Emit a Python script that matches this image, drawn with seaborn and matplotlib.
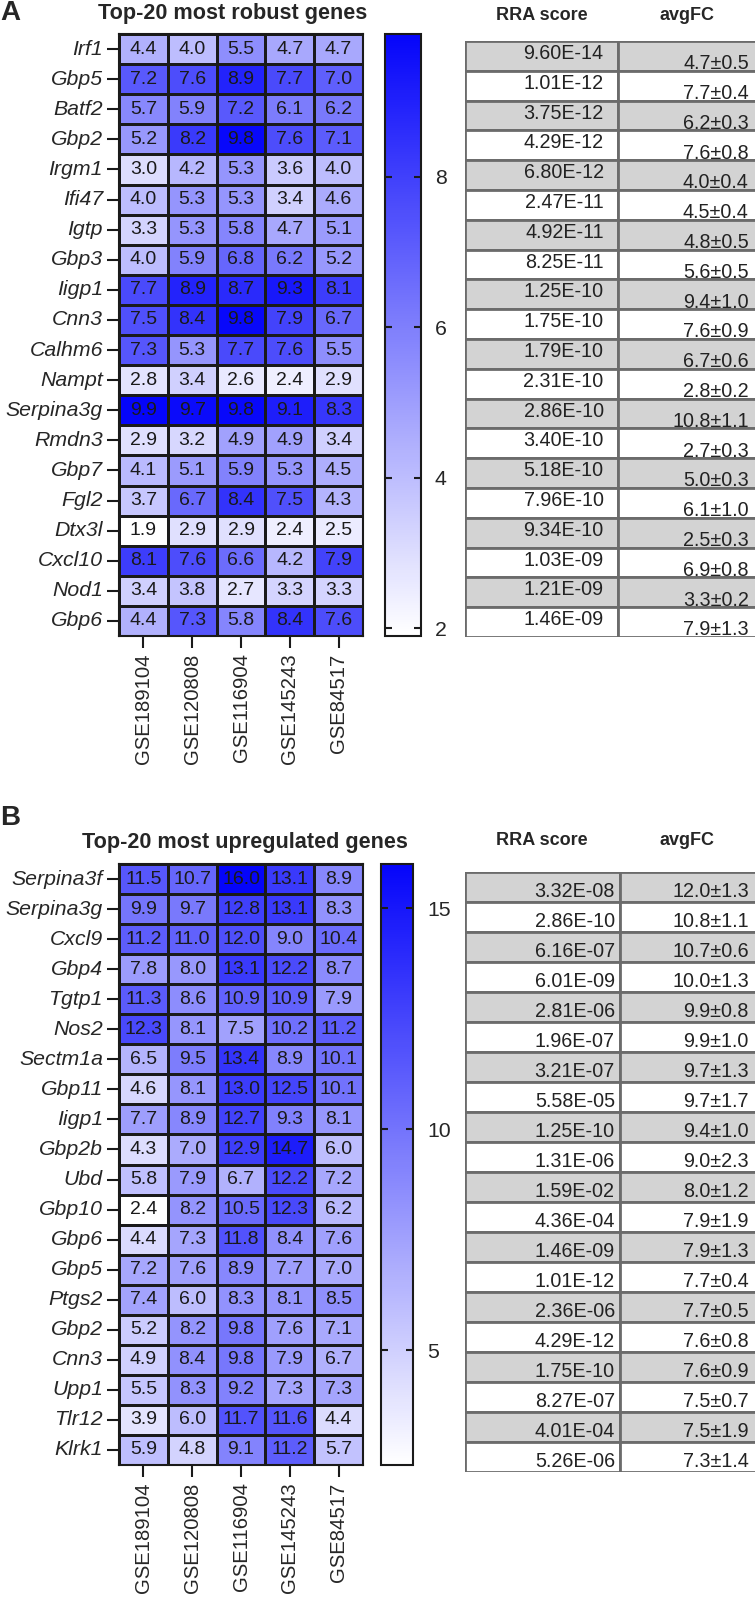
import numpy as np
import pandas as pd
import matplotlib
matplotlib.use("Agg")
import matplotlib.pyplot as plt
import seaborn as sns
from matplotlib.colors import LinearSegmentedColormap

# --- Data ---
datasets = ['GSE189104', 'GSE120808', 'GSE116904', 'GSE145243', 'GSE84517']

genes_a = ['Irf1', 'Gbp5', 'Batf2', 'Gbp2', 'Irgm1', 'Ifi47', 'Igtp', 'Gbp3', 'Iigp1', 'Cnn3',
           'Calhm6', 'Nampt', 'Serpina3g', 'Rmdn3', 'Gbp7', 'Fgl2', 'Dtx3l', 'Cxcl10', 'Nod1', 'Gbp6']
fc_a = [
    [4.4, 4.0, 5.5, 4.7, 4.7],
    [7.2, 7.6, 8.9, 7.7, 7.0],
    [5.7, 5.9, 7.2, 6.1, 6.2],
    [5.2, 8.2, 9.8, 7.6, 7.1],
    [3.0, 4.2, 5.3, 3.6, 4.0],
    [4.0, 5.3, 5.3, 3.4, 4.6],
    [3.3, 5.3, 5.8, 4.7, 5.1],
    [4.0, 5.9, 6.8, 6.2, 5.2],
    [7.7, 8.9, 8.7, 9.3, 8.1],
    [7.5, 8.4, 9.8, 7.9, 6.7],
    [7.3, 5.3, 7.7, 7.6, 5.5],
    [2.8, 3.4, 2.6, 2.4, 2.9],
    [9.9, 9.7, 9.8, 9.1, 8.3],
    [2.9, 3.2, 4.9, 4.9, 3.4],
    [4.1, 5.1, 5.9, 5.3, 4.5],
    [3.7, 6.7, 8.4, 7.5, 4.3],
    [1.9, 2.9, 2.9, 2.4, 2.5],
    [8.1, 7.6, 6.6, 4.2, 7.9],
    [3.4, 3.8, 2.7, 3.3, 3.3],
    [4.4, 7.3, 5.8, 8.4, 7.6],
]
rra_a = ['9.60E-14', '1.01E-12', '3.75E-12', '4.29E-12', '6.80E-12', '2.47E-11', '4.92E-11',
         '8.25E-11', '1.25E-10', '1.75E-10', '1.79E-10', '2.31E-10', '2.86E-10', '3.40E-10',
         '5.18E-10', '7.96E-10', '9.34E-10', '1.03E-09', '1.21E-09', '1.46E-09']
avgfc_a = ['4.7±0.5', '7.7±0.4', '6.2±0.3', '7.6±0.8', '4.0±0.4', '4.5±0.4', '4.8±0.5',
           '5.6±0.5', '9.4±1.0', '7.6±0.9', '6.7±0.6', '2.8±0.2', '10.8±1.1', '2.7±0.3',
           '5.0±0.3', '6.1±1.0', '2.5±0.3', '6.9±0.8', '3.3±0.2', '7.9±1.3']

genes_b = ['Serpina3f', 'Serpina3g', 'Cxcl9', 'Gbp4', 'Tgtp1', 'Nos2', 'Sectm1a', 'Gbp11', 'Iigp1',
           'Gbp2b', 'Ubd', 'Gbp10', 'Gbp6', 'Gbp5', 'Ptgs2', 'Gbp2', 'Cnn3', 'Upp1', 'Tlr12', 'Klrk1']
fc_b = [
    [11.5, 10.7, 16.0, 13.1, 8.9],
    [9.9, 9.7, 12.8, 13.1, 8.3],
    [11.2, 11.0, 12.0, 9.0, 10.4],
    [7.8, 8.0, 13.1, 12.2, 8.7],
    [11.3, 8.6, 10.9, 10.9, 7.9],
    [12.3, 8.1, 7.5, 10.2, 11.2],
    [6.5, 9.5, 13.4, 8.9, 10.1],
    [4.6, 8.1, 13.0, 12.5, 10.1],
    [7.7, 8.9, 12.7, 9.3, 8.1],
    [4.3, 7.0, 12.9, 14.7, 6.0],
    [5.8, 7.9, 6.7, 12.2, 7.2],
    [2.4, 8.2, 10.5, 12.3, 6.2],
    [4.4, 7.3, 11.8, 8.4, 7.6],
    [7.2, 7.6, 8.9, 7.7, 7.0],
    [7.4, 6.0, 8.3, 8.1, 8.5],
    [5.2, 8.2, 9.8, 7.6, 7.1],
    [4.9, 8.4, 9.8, 7.9, 6.7],
    [5.5, 8.3, 9.2, 7.3, 7.3],
    [3.9, 6.0, 11.7, 11.6, 4.4],
    [5.9, 4.8, 9.1, 11.2, 5.7],
]
rra_b = ['3.32E-08', '2.86E-10', '6.16E-07', '6.01E-09', '2.81E-06', '1.96E-07', '3.21E-07',
         '5.58E-05', '1.25E-10', '1.31E-06', '1.59E-02', '4.36E-04', '1.46E-09', '1.01E-12',
         '2.36E-06', '4.29E-12', '1.75E-10', '8.27E-07', '4.01E-04', '5.26E-06']
avgfc_b = ['12.0±1.3', '10.8±1.1', '10.7±0.6', '10.0±1.3', '9.9±0.8', '9.9±1.0', '9.7±1.3',
           '9.7±1.7', '9.4±1.0', '9.0±2.3', '8.0±1.2', '7.9±1.9', '7.9±1.3', '7.7±0.4',
           '7.7±0.5', '7.6±0.8', '7.6±0.9', '7.5±0.7', '7.5±1.9', '7.3±1.4']

# --- Style ---
sns.set_style("white")
plt.rcParams['font.family'] = ['Liberation Sans', 'DejaVu Sans']

W, H = 755, 1599
fig = plt.figure(figsize=(W / 100, H / 100), dpi=100)
cmap = LinearSegmentedColormap.from_list('wb', ['#ffffff', '#0505fa'])


def box(x0, y0, x1, y1):
    return [x0 / W, 1 - y1 / H, (x1 - x0) / W, (y1 - y0) / H]


def draw_heatmap(values, genes, hm_box, cb_box, cb_ticks):
    df = pd.DataFrame(values, index=genes, columns=datasets)
    ax = fig.add_axes(box(*hm_box))
    cax = fig.add_axes(box(*cb_box))
    sns.heatmap(df, ax=ax, cbar_ax=cax, cmap=cmap, annot=True, fmt='.1f',
                annot_kws={'fontsize': 14, 'color': '#1a1a1a'},
                linewidths=0.8, linecolor='#1a1a1a',
                vmin=df.values.min(), vmax=df.values.max())
    for s in ax.spines.values():
        s.set_visible(True)
        s.set_linewidth(1.5)
        s.set_color('#1a1a1a')
    ax.tick_params(axis='y', left=True, length=8.5, width=1.5, pad=3, labelsize=15.3,
                   color='#1a1a1a')
    ax.tick_params(axis='x', bottom=True, length=8.5, width=1.5, pad=4, labelsize=14.6,
                   color='#1a1a1a')
    ax.set_yticklabels(genes, rotation=0, style='italic')
    ax.set_xticklabels(datasets, rotation=90)
    ax.set_xlabel('')
    ax.set_ylabel('')
    # colorbar: inward ticks on both edges, drawn above the colour gradient
    cax.set_axisbelow(False)
    cax.set_yticks(cb_ticks)
    cax.yaxis.set_ticks_position('both')
    cax.tick_params(axis='y', left=True, right=True, direction='in', length=5, width=1.5,
                    labelsize=15.3, pad=10, color='#1a1a1a',
                    labelleft=False, labelright=True)
    cbar = ax.collections[0].colorbar
    cbar.outline.set_visible(True)
    cbar.outline.set_linewidth(1.5)
    cbar.outline.set_edgecolor('#1a1a1a')
    return ax


def draw_table(rra, avgfc, tb_box, split, y_rra, y_fc, x_rra):
    ax = fig.add_axes(box(*tb_box))
    n = len(rra)
    rows = np.arange(n)
    fills = ['#d3d3d3' if i % 2 == 0 else 'white' for i in rows]
    ax.barh(rows, [split] * n, left=0, height=1.0, color=fills, edgecolor='#6b6b6b',
            linewidth=2.0, align='edge')
    ax.barh(rows, [1.2 - split] * n, left=split, height=1.0, color=fills,
            edgecolor='#6b6b6b', linewidth=2.0, align='edge')
    ax.set_xlim(0, 1.0)
    ax.set_ylim(n, 0)
    for i in rows:
        ax.text(x_rra, i + y_rra, rra[i], ha='right', va='center', fontsize=14.2,
                color='#222222')
        ax.text(0.962, i + y_fc, avgfc[i], ha='right', va='center', fontsize=14.2,
                color='#222222')
    ax.axis('off')
    return ax


# Panel A
draw_heatmap(fc_a, genes_a, (119, 34, 363, 636), (385, 34, 421, 636), [2, 4, 6, 8])
draw_table(rra_a, avgfc_a, (465, 41, 760, 637), 0.519, 0.42, 0.76, 0.47)
fig.text(233 / W, 1 - 13 / H, 'Top-20 most robust genes', ha='center', va='center',
         fontsize=15.6, fontweight='bold')
fig.text(542 / W, 1 - 15 / H, 'RRA score', ha='center', va='center', fontsize=13,
         fontweight='bold')
fig.text(687 / W, 1 - 15 / H, 'avgFC', ha='center', va='center', fontsize=13,
         fontweight='bold')
fig.text(0.0, 1 - 13 / H, 'A', ha='left', va='center', fontsize=20, fontweight='bold')

# Panel B
draw_heatmap(fc_b, genes_b, (119, 864, 363, 1465), (381, 864, 413, 1465), [5, 10, 15])
draw_table(rra_b, avgfc_b, (465, 872, 760, 1472), 0.525, 0.64, 0.64, 0.508)
fig.text(245 / W, 1 - 842 / H, 'Top-20 most upregulated genes', ha='center', va='center',
         fontsize=15.6, fontweight='bold')
fig.text(542 / W, 1 - 840 / H, 'RRA score', ha='center', va='center', fontsize=13,
         fontweight='bold')
fig.text(687 / W, 1 - 840 / H, 'avgFC', ha='center', va='center', fontsize=13,
         fontweight='bold')
fig.text(0.0, 1 - 818 / H, 'B', ha='left', va='center', fontsize=20, fontweight='bold')

fig.savefig('out.png', dpi=100)
